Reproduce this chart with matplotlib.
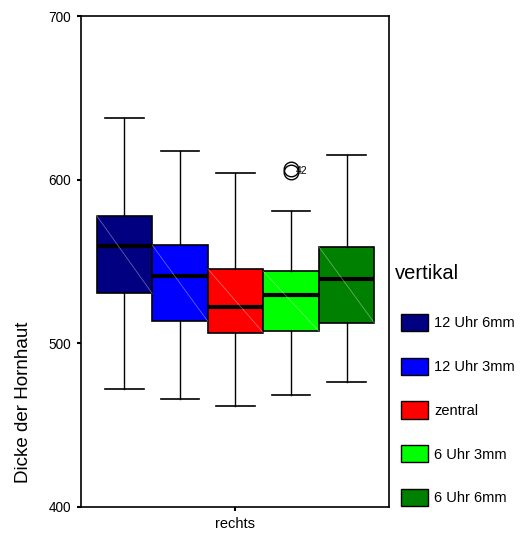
import matplotlib
matplotlib.use('Agg')
import matplotlib.pyplot as plt
from matplotlib.patches import Patch

plt.rcParams['font.family'] = ['Liberation Sans', 'DejaVu Sans']

# Werte
groups = ['12 Uhr 6mm', '12 Uhr 3mm', 'zentral', '6 Uhr 3mm', '6 Uhr 6mm']
colors = ['#000080', '#0000ff', '#ff0000', '#00ff00', '#008000']
whislo = [472, 466, 461.5, 468.5, 476.5]
q1 = [530.5, 513.5, 506.5, 507.5, 512.5]
med = [559.5, 541, 522, 529.5, 539.5]
q3 = [578, 560, 545.5, 544, 559]
whishi = [637.5, 617.5, 604, 581, 615]
fliers = [[], [], [], [606.5, 604.5], []]
flier_labels = ['', '', '', '42', '']

stats = []
for i in range(len(groups)):
    stats.append(dict(label=groups[i], whislo=whislo[i], q1=q1[i], med=med[i],
                      q3=q3[i], whishi=whishi[i], fliers=fliers[i]))

fig = plt.figure(figsize=(5.26, 5.36), dpi=100)
ax = fig.add_axes([81 / 526, 1 - 507 / 536, 308 / 526, 491 / 536])

pos = list(range(1, len(groups) + 1))
bp = ax.bxp(stats, positions=pos, widths=1.0, capwidths=0.7, patch_artist=True,
            showfliers=True,
            boxprops=dict(edgecolor='black', linewidth=1.2),
            whiskerprops=dict(color='black', linewidth=1.0),
            capprops=dict(color='black', linewidth=1.2),
            medianprops=dict(color='black', linewidth=3.0),
            flierprops=dict(marker='o', markersize=10.5, markerfacecolor='none',
                            markeredgecolor='black', markeredgewidth=1.0))
for patch, c in zip(bp['boxes'], colors):
    patch.set_facecolor(c)

# die feine Diagonale in jeder Box (SPSS-Artefakt)
for i, p in enumerate(pos):
    ax.plot([p - 0.5, p + 0.5], [q3[i], q1[i]], color='white', lw=0.5, alpha=0.45, zorder=2.5)

for i, p in enumerate(pos):
    if flier_labels[i]:
        ax.text(p + 0.08, fliers[i][0] - 1, flier_labels[i], fontsize=7.5, va='center', ha='left')

ax.set_xlim(0.218, 5.764)
ax.set_ylim(400, 700)
ax.set_xticks([3])
ax.set_xticklabels(['rechts'], fontsize=10.5)
ax.set_yticks([400, 500, 600, 700])
ax.set_yticklabels(['400', '500', '600', '700'], fontsize=9.8)
ax.tick_params(direction='out', length=3, width=1.5, pad=4)
for s in ax.spines.values():
    s.set_linewidth(1.2)
ax.set_ylabel('Dicke der Hornhaut', fontsize=13.5)
ax.yaxis.set_label_coords((32 - 81) / 308, (507 - 402) / 491)

fig.text(395 / 526, 1 - 273 / 536, 'vertikal', fontsize=14.5, va='center', ha='left')
handles = [Patch(facecolor=c, edgecolor='black', linewidth=1.0) for c in colors]
ax.legend(handles, groups, loc='upper left', bbox_to_anchor=(400.7 / 526, 1 - 314 / 536),
          bbox_transform=fig.transFigure, frameon=False, fontsize=10.5,
          handlelength=1.9, handleheight=1.45, labelspacing=1.81, handletextpad=0.4,
          borderpad=0, borderaxespad=0)

fig.savefig('out.png', dpi=100)
